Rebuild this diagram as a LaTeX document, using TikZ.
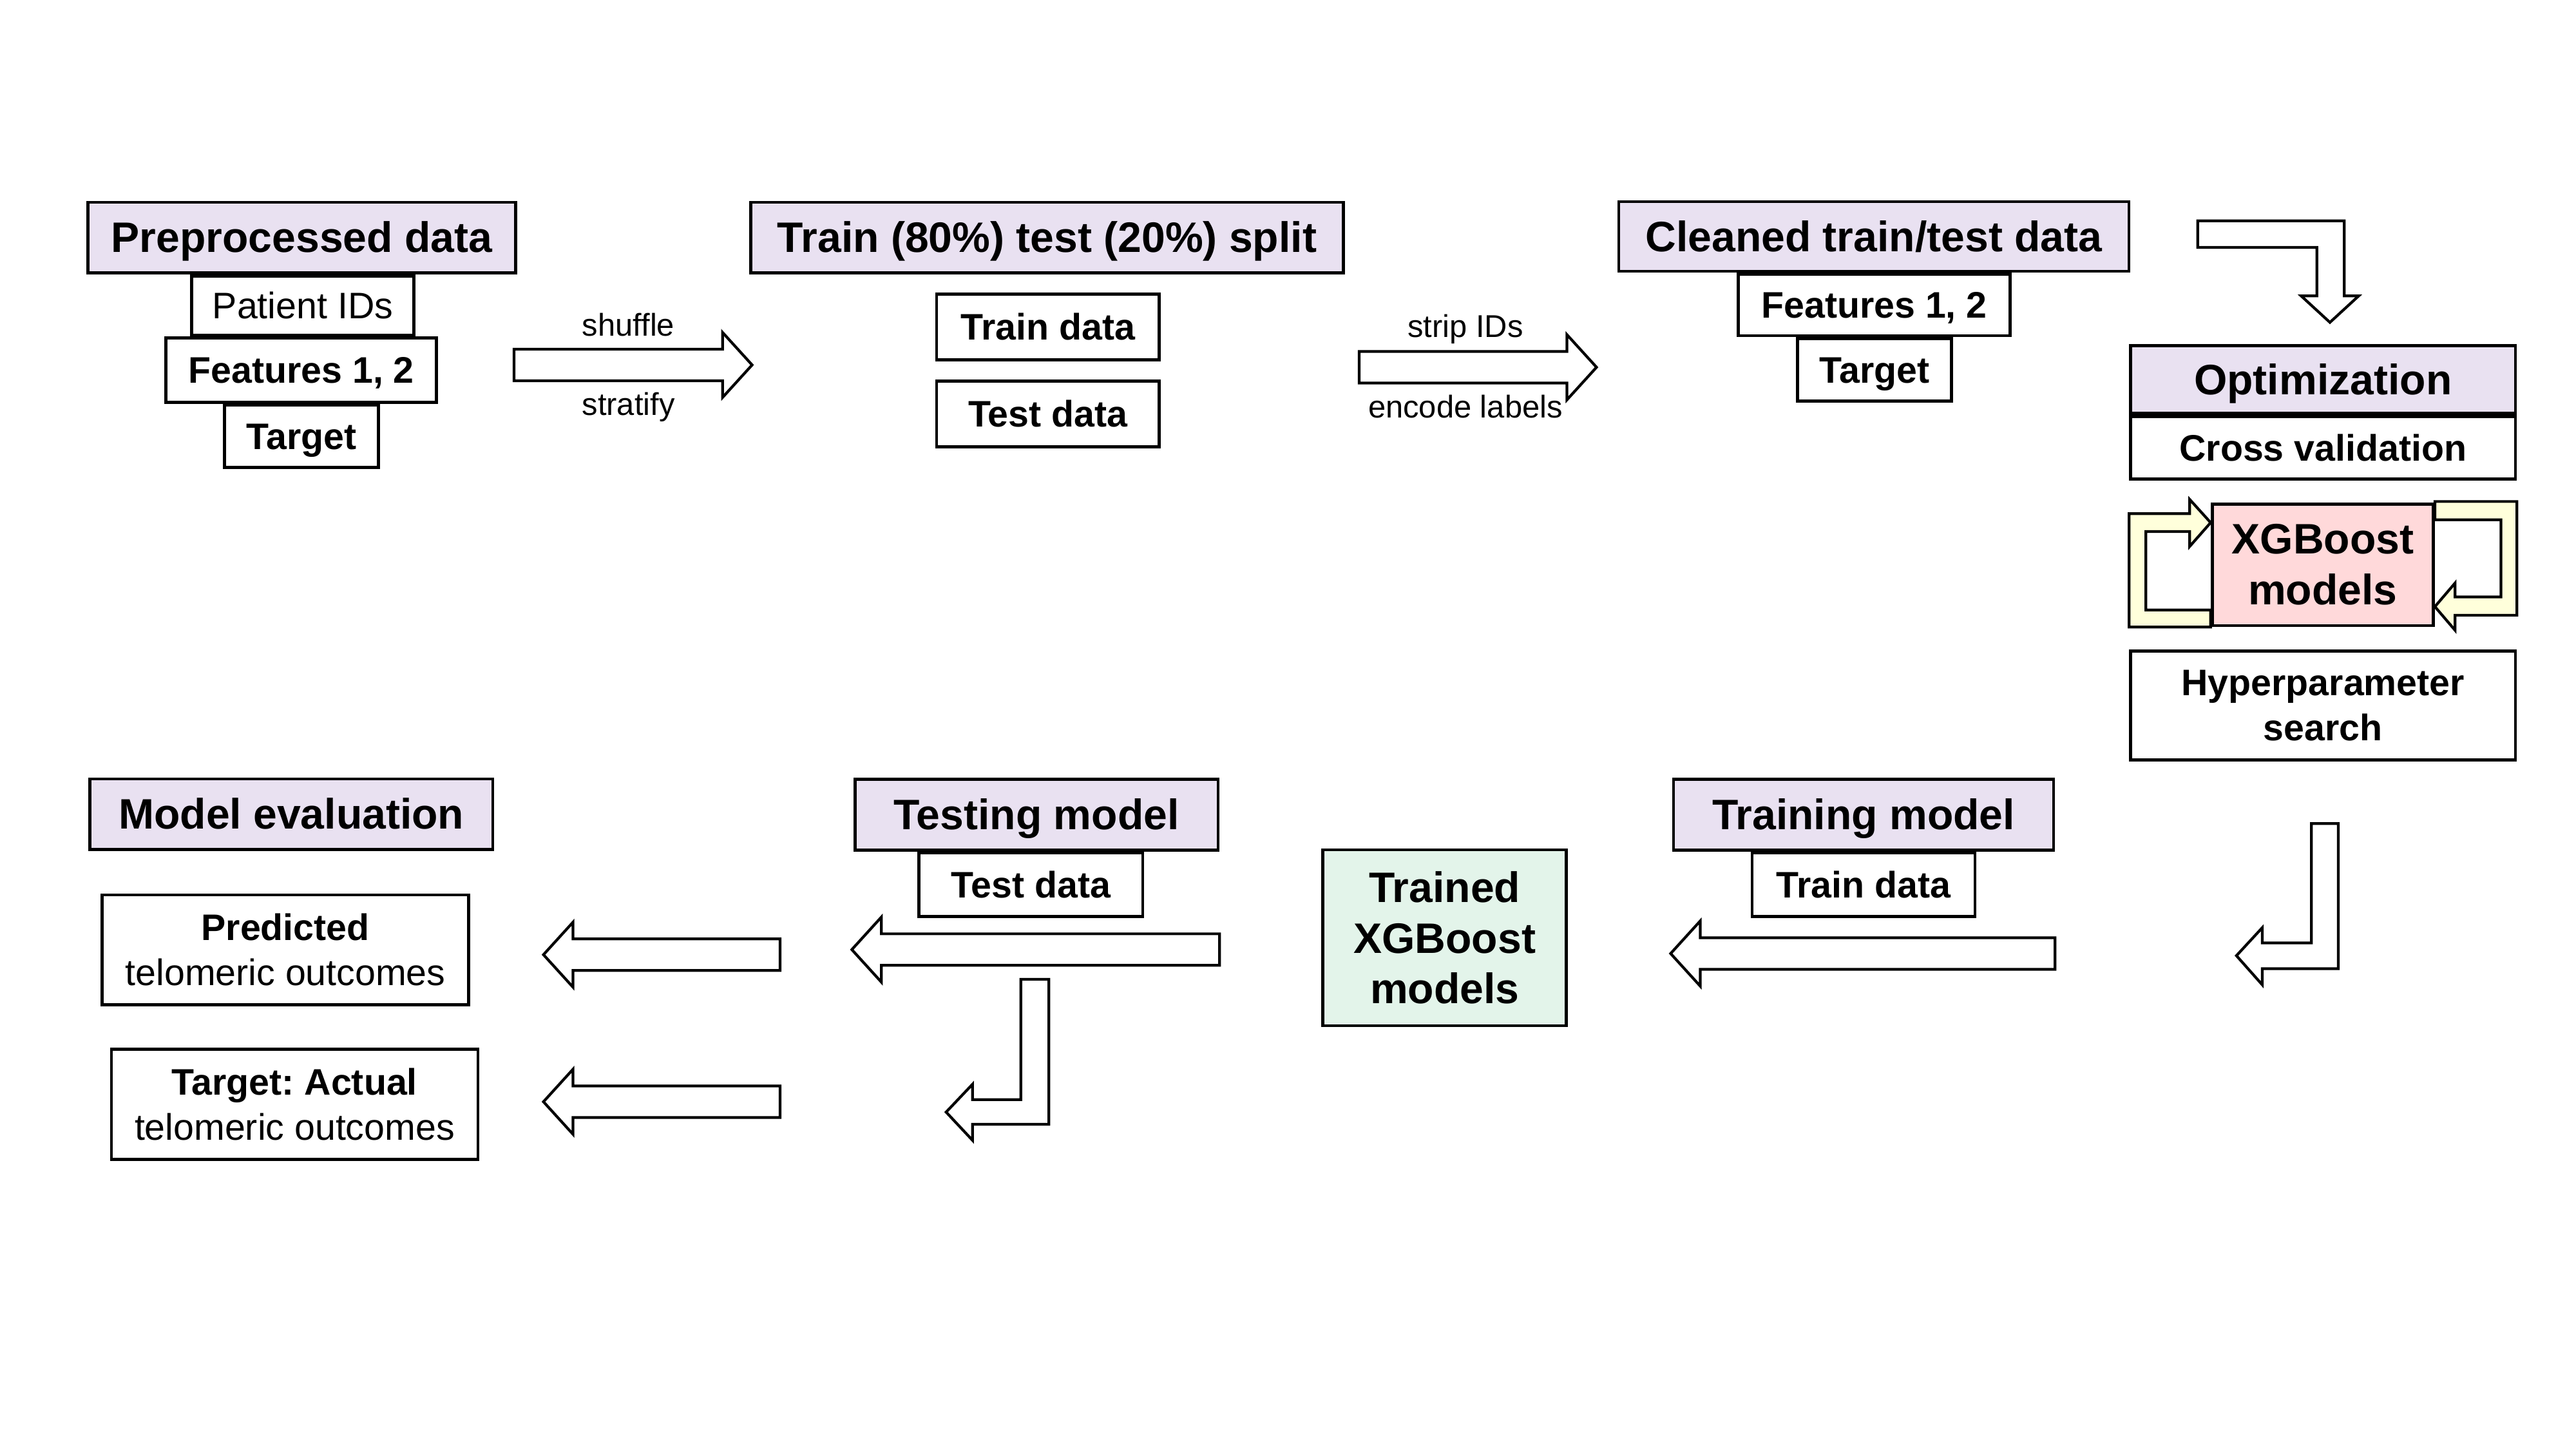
\documentclass[tikz,border=0pt]{standalone}
\usepackage{fontspec}
\setmainfont{Liberation Sans}
\usetikzlibrary{calc}
\frenchspacing
\definecolor{headfill}{HTML}{E9E1F1}
\definecolor{xgbfill}{HTML}{FFD9DA}
\definecolor{trainedfill}{HTML}{E3F4EA}
\definecolor{loopfill}{HTML}{FFFFDB}
\newlength{\px}
\setlength{\px}{0.025504cm}
\newcommand{\headfont}{\fontsize{18.8}{22.4}\selectfont\bfseries}
\newcommand{\subfont}{\fontsize{16.3}{19.8}\selectfont}
\newcommand{\lblfont}{\fontsize{13.9}{16}\selectfont}
\newcommand{\blockarrow}[3]{%
  \pgfmathsetmacro{\hl}{-18*#3}
  \draw[barrow] ($(#1)+(0,-9.6)$) -- ($(#2)+(\hl,-9.6)$) -- ($(#2)+(\hl,-19.8)$) -- (#2)
    -- ($(#2)+(\hl,19.8)$) -- ($(#2)+(\hl,9.6)$) -- ($(#1)+(0,9.6)$) -- cycle;}

\begin{document}
\begin{tikzpicture}[x=0.025504cm, y=-0.025504cm,
    box/.style={draw, line width=1.35pt, inner sep=0pt, fill=white},
    head/.style={box, fill=headfill, font=\headfont, text height=16.9pt, text depth=3.8pt},
    sub/.style={box, font=\subfont\bfseries, text height=14.7pt, text depth=3.3pt},
    plain/.style={box, font=\subfont, text height=14.7pt, text depth=3.3pt},
    multi/.style={box, align=center},
    lbl/.style={font=\lblfont, inner sep=0pt, text height=12.5pt, text depth=2.8pt},
    barrow/.style={draw, line width=1.2pt, fill=white, line join=miter},
    loop/.style={draw, line width=1.2pt, fill=loopfill, line join=miter}]
    \useasboundingbox (0,0) rectangle (1568,881.8);

    \node[head, minimum width=260.2\px, minimum height=43\px] (prep) at (183.7,144.6) {Preprocessed data};
    \node[plain, minimum width=135.4\px, minimum height=36\px] (pid) at (184.3,185.9) {Patient IDs};
    \node[sub, minimum width=164.7\px, minimum height=39.1\px] (feat1) at (183.35,225.25) {Features 1, 2};
    \node[sub, minimum width=93.7\px, minimum height=37.8\px] (tgt1) at (183.55,265.5) {Target};

    \node[head, minimum width=360.5\px, minimum height=43\px] (split) at (637.35,144.6) {Train (80\%) test (20\%) split};
    \node[sub, minimum width=135.5\px, minimum height=40.1\px] (trd1) at (637.85,199.05) {Train data};
    \node[sub, minimum width=135.5\px, minimum height=40.1\px] (ted1) at (637.85,251.85) {Test data};

    \node[head, minimum width=310.6\px, minimum height=42.4\px] (clean) at (1140.6,143.9) {Cleaned train/test data};
    \node[sub, minimum width=165.2\px, minimum height=37.4\px] (feat2) at (1140.8,185.6) {Features 1, 2};
    \node[sub, minimum width=93.7\px, minimum height=38.1\px] (tgt2) at (1140.95,225.15) {Target};

    \node[head, minimum width=234.2\px, minimum height=41.2\px] (optim) at (1414,231) {Optimization};
    \node[sub, minimum width=234.2\px, minimum height=38.2\px] (cross) at (1414,272.5) {Cross validation};
    \draw[loop] (1345.6,381.6) -- (1296,381.6) -- (1296,312.6) -- (1332.8,312.6) -- (1332.8,303.9) -- (1345.6,318.05)
        -- (1332.8,332.6) -- (1332.8,323.5) -- (1306.2,323.5) -- (1306.2,371.2) -- (1345.6,371.2) -- cycle;
    \draw[loop] (1482.1,305.2) -- (1532,305.2) -- (1532,374.4) -- (1494.4,374.4) -- (1494.4,383.6) -- (1482.1,369.2)
        -- (1494.4,354.8) -- (1494.4,363.3) -- (1522.3,363.3) -- (1522.3,316.3) -- (1482.1,316.3) -- cycle;
    \node[multi, fill=xgbfill, font=\headfont, minimum width=134.7\px, minimum height=74\px] (xgb) at (1413.85,343.7) {XGBoost\\models};
    \node[multi, font=\subfont\bfseries, minimum width=234.2\px, minimum height=66.1\px] (hyper) at (1414,429.35) {Hyperparameter\\search};

    \node[head, minimum width=245.3\px, minimum height=43\px] (evalm) at (177.35,495.5) {Model evaluation};
    \node[multi, font=\subfont, minimum width=223.1\px, minimum height=66.8\px] (pred) at (173.75,578) {\textbf{Predicted}\\telomeric outcomes};
    \node[multi, font=\subfont, minimum width=223.1\px, minimum height=67\px] (actual) at (179.35,672) {\textbf{Target: Actual}\\telomeric outcomes};

    \node[head, minimum width=221\px, minimum height=43\px] (testm) at (630.9,495.8) {Testing model};
    \node[sub, minimum width=136.2\px, minimum height=38.7\px] (ted2) at (627.5,538.45) {Test data};

    \node[multi, fill=trainedfill, font=\headfont, minimum width=148.3\px, minimum height=107\px] (trained) at (879.35,570.7) {Trained\\XGBoost\\models};

    \node[head, minimum width=231.3\px, minimum height=43\px] (trainm) at (1134.35,495.8) {Training model};
    \node[sub, minimum width=135.7\px, minimum height=38.7\px] (trd2) at (1134.35,538.45) {Train data};

    \coordinate (shuf0) at (312.9,222.1);
    \coordinate (shuf1) at (457.8,222.1);
    \blockarrow{shuf0}{shuf1}{1}
    \node[lbl] (shuffle) at (382.5,197.8) {shuffle};
    \node[lbl] (stratify) at (382.5,246) {stratify};

    \coordinate (strip0) at (827.3,223.5);
    \coordinate (strip1) at (971.8,223.5);
    \blockarrow{strip0}{strip1}{1}
    \node[lbl] (stripids) at (892,198.5) {strip IDs};
    \node[lbl] (encode) at (892,247.5) {encode labels};

    \draw[barrow] (1337.7,134.4) -- (1426.9,134.4) -- (1426.9,180.1) -- (1435.7,180.1) -- (1418.2,196.2)
        -- (1400.7,180.1) -- (1410.3,180.1) -- (1410.3,150.6) -- (1337.7,150.6) -- cycle;
    \draw[barrow] (1406.9,501.2) -- (1423.3,501.2) -- (1423.3,589.5) -- (1377,589.5) -- (1377,599.3)
        -- (1361.3,581.6) -- (1377,564.6) -- (1377,573.8) -- (1406.9,573.8) -- cycle;
    \draw[barrow] (621.4,596) -- (638.4,596) -- (638.4,684.2) -- (592,684.2) -- (592,694)
        -- (575.9,676.8) -- (592,659.8) -- (592,669.2) -- (621.4,669.2) -- cycle;

    \coordinate (fit0) at (1250.9,580.3);
    \coordinate (fit1) at (1016.9,580.3);
    \blockarrow{fit0}{fit1}{-1}
    \coordinate (test0) at (742.3,577.9);
    \coordinate (test1) at (518.5,577.9);
    \blockarrow{test0}{test1}{-1}
    \coordinate (pred0) at (474.8,581);
    \coordinate (pred1) at (330.8,581);
    \blockarrow{pred0}{pred1}{-1}
    \coordinate (act0) at (474.8,670.5);
    \coordinate (act1) at (330.8,670.5);
    \blockarrow{act0}{act1}{-1}
\end{tikzpicture}
\end{document}
